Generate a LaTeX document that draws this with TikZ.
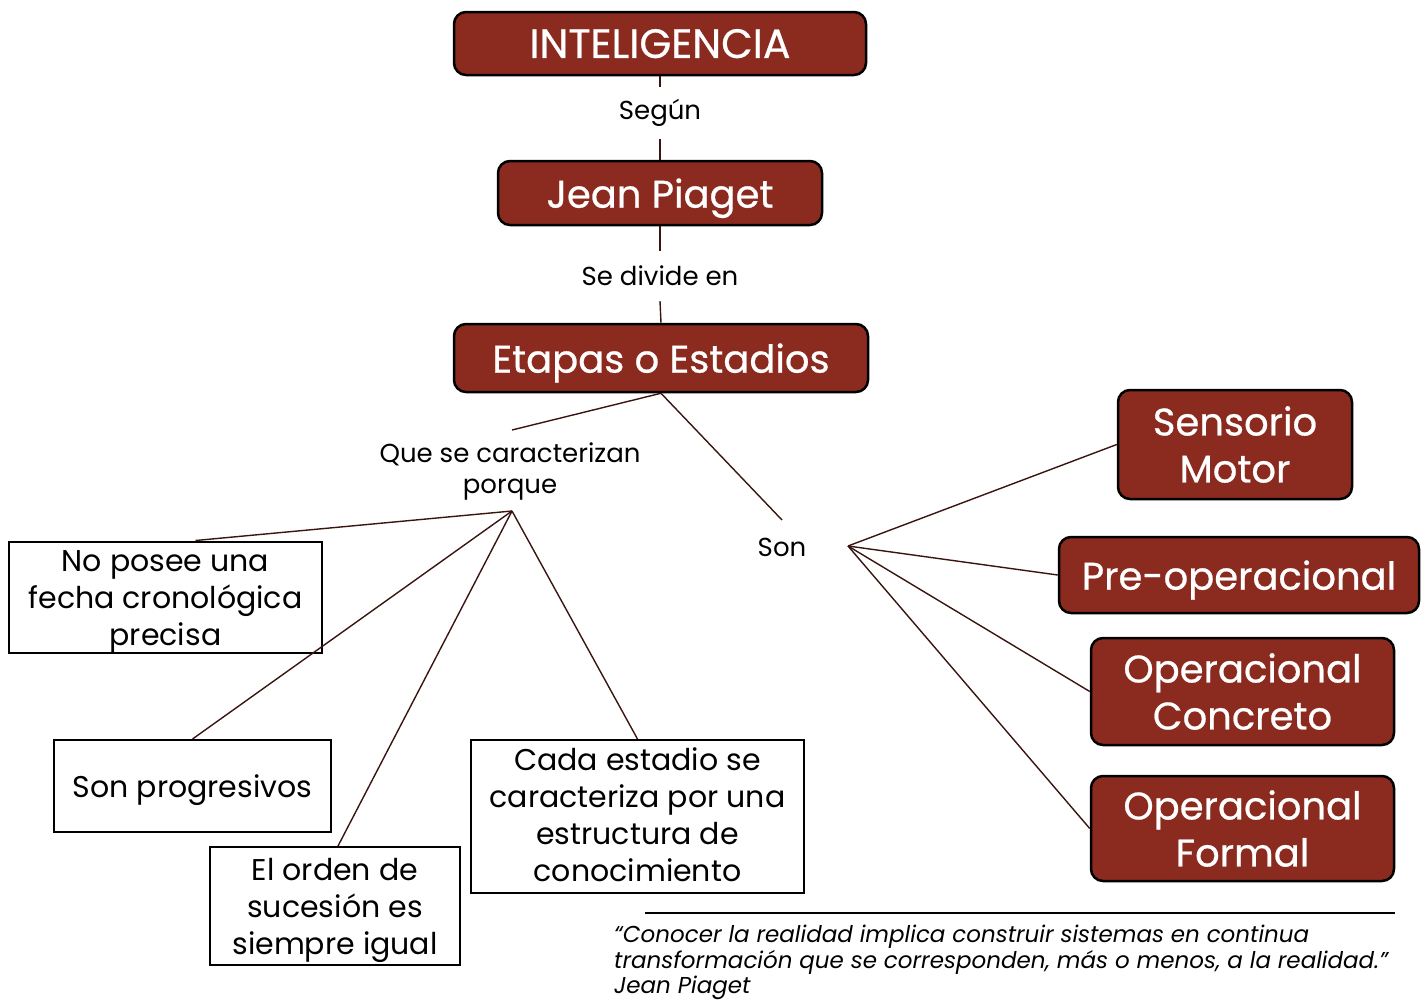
\documentclass[tikz,border=0pt]{standalone}
\usepackage{fontspec}
\setmainfont{Poppins}
\definecolor{boxred}{HTML}{8B2B1F}
\definecolor{linec}{HTML}{3A1510}
\newcommand\lowtext[2]{\raisebox{-#1}[\height][\depth]{\begin{tabular}{@{}c@{}}#2\end{tabular}}}
\begin{document}
\begin{tikzpicture}[x=1pt,y=-1pt,
 redbox/.style={draw=black, line width=2.5pt, fill=boxred, rounded corners=12pt, text=white, align=center, inner sep=0pt, font=\fontsize{38.5}{47}\selectfont\addfontfeatures{FakeBold=0.6}},
 oneline/.style={text depth=0pt},
 wbox/.style={draw=black, line width=2pt, fill=white, align=center, inner sep=0pt, font=\fontsize{30}{37}\selectfont},
 lbl/.style={align=center, inner sep=0pt, font=\fontsize{26}{31}\selectfont},
 conn/.style={draw=linec, line width=1.4pt}]
\useasboundingbox (0,0) rectangle (1427,1002);
% main column
\node[redbox, oneline, minimum width=412pt, minimum height=63pt, font=\fontsize{41}{47}\selectfont\addfontfeatures{FakeBold=0.6}] (intel) at (660,43.5) {INTELIGENCIA};
\node[lbl, inner ysep=12pt] (segun) at (660,113) {Según};
\node[redbox, oneline, minimum width=324pt, minimum height=64pt] (piaget) at (660,193) {Jean Piaget};
\node[lbl, inner ysep=15pt] (divide) at (660,276) {Se divide en};
\node[redbox, oneline, minimum width=414pt, minimum height=68pt] (etapas) at (661,358) {Etapas o Estadios};
% labels
\node[lbl] (que) at (510,471) {Que se caracterizan\\porque};
\node[lbl] (son) at (782,547) {Son};
\coordinate (qtop) at (512,430);
\coordinate (qhub) at (512,511);
\coordinate (stop) at (782,520);
\coordinate (shub) at (848,546);
% white boxes
\node[wbox, minimum width=313pt, minimum height=108pt] (noposee) at (165.5,597) {\lowtext{4.5pt}{No posee una\\fecha cronológica\\precisa}};
\node[wbox, minimum width=277pt, minimum height=92pt] (sonprog) at (192.5,786) {\lowtext{4pt}{Son progresivos}};
\node[wbox, minimum width=250pt, minimum height=118pt] (orden) at (335,906) {\lowtext{4pt}{El orden de\\sucesión es\\siempre igual}};
\node[wbox, minimum width=333pt, minimum height=153pt] (cada) at (637.5,816.5) {\lowtext{2pt}{Cada estadio se\\caracteriza por una\\estructura de\\conocimiento}};
% stages
\node[redbox, minimum width=234pt, minimum height=109pt] (senso) at (1235,444.5) {Sensorio\\Motor};
\node[redbox, oneline, minimum width=360pt, minimum height=76pt] (preop) at (1239,575) {Pre-operacional};
\node[redbox, minimum width=303pt, minimum height=107pt] (opconc) at (1242.5,691.5) {Operacional\\Concreto};
\node[redbox, minimum width=303pt, minimum height=105pt] (opform) at (1242.5,828.5) {Operacional\\Formal};
% connectors
\draw[conn] (intel.south) -- (segun.north);
\draw[conn] (segun.south) -- (piaget.north);
\draw[conn] (piaget.south) -- (divide.north);
\draw[conn] (divide.south) -- (etapas.north);
\draw[conn] (etapas.south) -- (qtop);
\draw[conn] (etapas.south) -- (stop);
\draw[conn] (qhub) -- ([xshift=30pt]noposee.north);
\draw[conn] (qhub) -- (sonprog.north);
\draw[conn] (qhub) -- ([xshift=3pt]orden.north);
\draw[conn] (qhub) -- (cada.north);
\draw[conn] (shub) -- (senso.west);
\draw[conn] (shub) -- (preop.west);
\draw[conn] (shub) -- (opconc.west);
\draw[conn] (shub) -- (opform.west);
% quote
\coordinate (ql) at (645,913);
\coordinate (qr) at (1395,913);
\draw[black, line width=1.5pt] (ql) -- (qr);
\node[anchor=north west, align=left, inner sep=0pt, font=\fontsize{23}{25.5}\selectfont\itshape] (quote) at (614,925) {“Conocer la realidad implica construir sistemas en continua\\transformación que se corresponden, más o menos, a la realidad.”\\Jean Piaget};
\end{tikzpicture}
\end{document}
